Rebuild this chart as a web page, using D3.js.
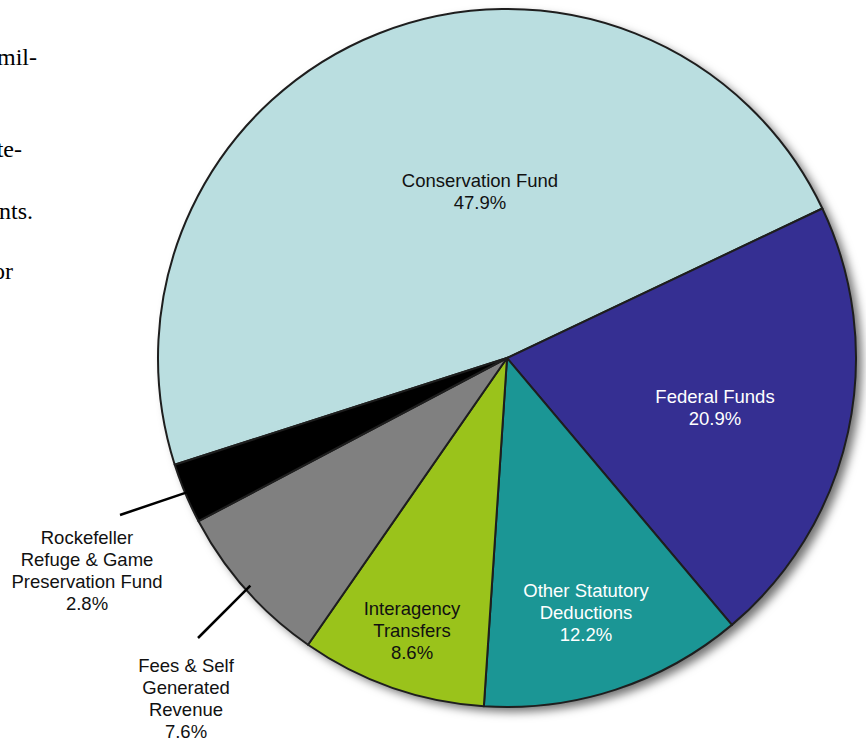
<!DOCTYPE html>
<html>
<head>
<meta charset="utf-8">
<script src="https://cdn.jsdelivr.net/npm/d3@7"></script>
<style>
  body { margin: 0; background: #fff; }
  svg { display: block; }
</style>
</head>
<body>
<svg width="866" height="740"></svg>
<script>
// funding sources, in clockwise order starting from Conservation Fund
var categories = ["Conservation Fund", "Federal Funds", "Other Statutory Deductions",
                  "Interagency Transfers", "Fees & Self Generated Revenue",
                  "Rockefeller Refuge & Game Preservation Fund"];
var shares = [47.9, 20.9, 12.2, 8.6, 7.6, 2.8];
var colors = ["#badee0", "#352f92", "#1b9695", "#9ac31b", "#808080", "#000000"];
var labelLines = [
  ["Conservation Fund", "47.9%"],
  ["Federal Funds", "20.9%"],
  ["Other Statutory", "Deductions", "12.2%"],
  ["Interagency", "Transfers", "8.6%"],
  ["Fees & Self", "Generated", "Revenue", "7.6%"],
  ["Rockefeller", "Refuge & Game", "Preservation Fund", "2.8%"]
];
// clipped body text from the page the chart sits on
var sideText = ["mil-", "te-", "nts.", "or"];

var svg = d3.select("svg");
var cx = 507, cy = 358, radius = 349;

var defs = svg.append("defs");
var f = defs.append("filter").attr("id", "shadow")
  .attr("x", "-10%").attr("y", "-10%").attr("width", "125%").attr("height", "125%");
f.append("feDropShadow").attr("dx", 6).attr("dy", 5)
  .attr("stdDeviation", 5).attr("flood-color", "#000").attr("flood-opacity", 0.55);

// side text
var sideX = [37, 22, 33, 13], sideY = [65, 157, 219, 279];
svg.selectAll("text.side").data(sideText).join("text")
  .attr("class", "side")
  .attr("x", (d, i) => sideX[i]).attr("y", (d, i) => sideY[i])
  .attr("text-anchor", "end")
  .style("font-family", "'Liberation Serif', 'Times New Roman', serif")
  .style("font-size", "24px")
  .text(d => d);

var pie = d3.pie().sort(null).value(d => d)
  .startAngle(-107.8 * Math.PI / 180)
  .endAngle(252.2 * Math.PI / 180);
var arcs = pie(shares);
var arc = d3.arc().innerRadius(0).outerRadius(radius);

var g = svg.append("g").attr("transform", "translate(" + cx + "," + cy + ")");

g.append("circle").attr("r", radius).attr("fill", "#fff").attr("filter", "url(#shadow)");

g.selectAll("path.slice").data(arcs).join("path")
  .attr("class", "slice")
  .attr("d", arc)
  .attr("fill", (d, i) => colors[i])
  .attr("stroke", "#1e1e1e")
  .attr("stroke-width", 2)
  .attr("stroke-linejoin", "round");

// label anchors (x, y of first baseline, relative to centre) and text colours
var labelAt = [[-27, -171], [208, 45], [79, 239], [-95, 257], [-321, 314], [-420, 186]];
var labelFill = ["#111", "#fff", "#fff", "#111", "#111", "#111"];

var labels = g.selectAll("text.lbl").data(arcs).join("text")
  .attr("class", "lbl")
  .attr("text-anchor", "middle")
  .attr("x", (d, i) => labelAt[i][0])
  .attr("y", (d, i) => labelAt[i][1])
  .attr("fill", (d, i) => labelFill[i])
  .style("font-family", "'Liberation Sans', Arial, sans-serif")
  .style("font-size", "18.5px");
labels.each(function(d, i) {
  d3.select(this).selectAll("tspan").data(labelLines[i]).join("tspan")
    .attr("x", labelAt[i][0])
    .attr("dy", (t, j) => j === 0 ? 0 : 22)
    .text(t => t);
});

// leader lines for the two small outside slices
var leaders = [{i: 5, from: [-387, 157], r: radius - 8}, {i: 4, from: [-309, 280], r: radius - 6}];
var mid = d => (arcs[d.i].startAngle + arcs[d.i].endAngle) / 2;
g.selectAll("line.lead").data(leaders).join("line")
  .attr("class", "lead")
  .attr("x1", d => d.from[0]).attr("y1", d => d.from[1])
  .attr("x2", d => Math.sin(mid(d)) * d.r)
  .attr("y2", d => -Math.cos(mid(d)) * d.r)
  .attr("stroke", "#000")
  .attr("stroke-width", 2.5);
</script>
</body>
</html>
